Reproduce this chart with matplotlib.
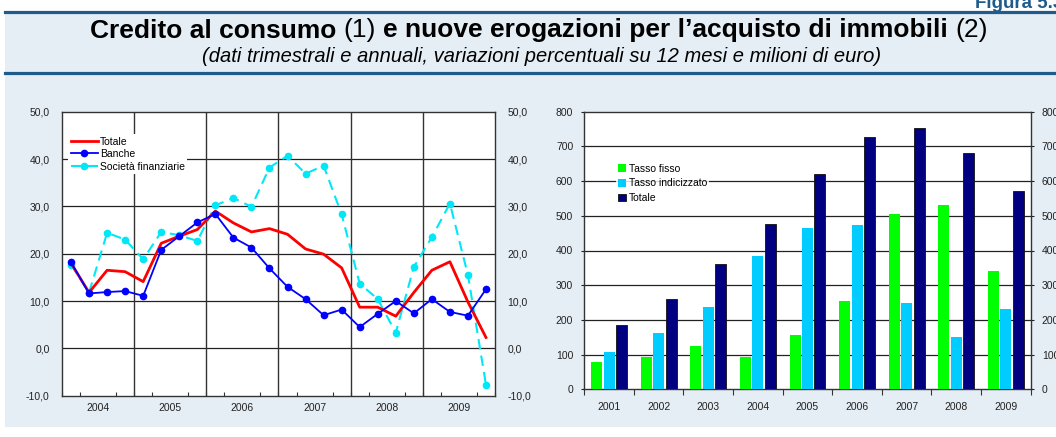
import matplotlib
matplotlib.use("Agg")
import matplotlib.pyplot as plt
from matplotlib.lines import Line2D
from matplotlib.patches import Rectangle
import numpy as np

plt.rcParams['font.family'] = ['Liberation Sans', 'DejaVu Sans']

# ---------------- data ----------------
years_q = ["2004", "2005", "2006", "2007", "2008", "2009"]
totale = [18.0, 11.8, 16.5, 16.2, 14.1, 22.2, 23.7, 25.1, 29.0, 26.5, 24.6, 25.3,
          24.1, 21.0, 19.9, 17.0, 8.7, 8.7, 6.8, 11.8, 16.5, 18.3, 9.8, 2.3]
banche = [18.2, 11.6, 11.9, 12.1, 11.1, 20.8, 23.7, 26.6, 28.4, 23.4, 21.3, 16.9,
          13.0, 10.4, 7.0, 8.2, 4.5, 7.3, 10.0, 7.4, 10.4, 7.7, 6.9, 12.5]
societa = [17.7, 11.8, 24.4, 23.0, 18.8, 24.6, 23.9, 22.7, 30.2, 31.8, 29.9, 38.2,
           40.7, 36.9, 38.6, 28.3, 13.7, 10.4, 3.3, 17.2, 23.5, 30.6, 15.5, -7.7]

years_a = ["2001", "2002", "2003", "2004", "2005", "2006", "2007", "2008", "2009"]
tasso_fisso = [79, 93, 125, 93, 157, 255, 505, 531, 341]
tasso_indic = [108, 162, 237, 384, 465, 474, 249, 151, 232]
totale_imm = [186, 260, 362, 477, 621, 728, 754, 682, 572]

left_yticks = [-10, 0, 10, 20, 30, 40, 50]
right_yticks = [0, 100, 200, 300, 400, 500, 600, 700, 800]

# ---------------- figure ----------------
W, H = 1056, 437
fig = plt.figure(figsize=(W / 100, H / 100), dpi=100)
fig.patch.set_facecolor('white')

def fx(px):
    return px / W

def fy(py):
    return 1 - py / H

bg = '#E6EEF5'
dark = '#1F5C8B'
fig.add_artist(Rectangle((fx(5), fy(427)), 1 - fx(5), fy(12) - fy(427),
                         transform=fig.transFigure, facecolor=bg, edgecolor='none', zorder=-10))
fig.add_artist(Line2D([fx(5), 1], [fy(11.5), fy(11.5)], transform=fig.transFigure,
                      color=dark, lw=2.3))
fig.add_artist(Line2D([fx(5), 1], [fy(73), fy(73)], transform=fig.transFigure,
                      color=dark, lw=2.3))

fig.text(fx(975), fy(8.5), "Figura 5.3", fontsize=13.5, fontweight='bold', color=dark,
         ha='left', va='baseline')

# title with mixed weights
pieces = [("Credito al consumo", 'bold'), ("(1)", 'normal'),
          ("e nuove erogazioni per l\u2019acquisto di immobili", 'bold'), ("(2)", 'normal')]
tsize = 19
renderer = fig.canvas.get_renderer()
objs = []
for s, w in pieces:
    t = fig.text(0, fy(37.5), s, fontsize=tsize, fontweight=w, ha='left', va='baseline', color='black')
    objs.append(t)
widths = [o.get_window_extent(renderer).width for o in objs]
gap = 0.278 * tsize * 100 / 72
total = sum(widths) + gap * (len(widths) - 1)
x = 539 - total / 2
for o, w in zip(objs, widths):
    o.set_x(fx(x))
    x += w + gap

fig.text(fx(542), fy(56), "(dati trimestrali e annuali, variazioni percentuali su 12 mesi e milioni di euro)",
         fontsize=14.5, style='italic', ha='center', va='center', color='black')

# ---------------- left chart ----------------
ax1 = fig.add_axes([fx(62), fy(395.7), fx(433), (395.7 - 111.7) / H])
ax1.set_facecolor('white')
xq = np.arange(len(totale))
ax1.set_xlim(-0.5, len(totale) - 0.5)
ax1.set_ylim(-10, 50)
for yv in [0, 10, 20, 30, 40]:
    ax1.axhline(yv, color='#222222', lw=0.9, zorder=1)
for k in range(1, len(years_q)):
    ax1.axvline(4 * k - 0.5, color='#333333', lw=1.0, zorder=1)

l_tot, = ax1.plot(xq, totale, color='#FF0000', lw=2.0, zorder=4, label='Totale')
l_ban, = ax1.plot(xq, banche, color='#0000FF', lw=1.3, marker='o', ms=4.5, zorder=5, label='Banche')
l_soc, = ax1.plot(xq, societa, color='#00E8F8', lw=1.5, ls=(0, (5, 3)), marker='o', ms=4.5,
                  zorder=3, label='Societ\u00e0 finanziarie')

ax1.set_yticks(left_yticks)
ax1.set_yticklabels([f"{v:.1f}".replace('.', ',') for v in left_yticks])
ax1.tick_params(axis='y', which='both', length=0, labelsize=7.5, labelleft=True,
                labelright=True, pad=9, colors='#222222')
ax1.set_xticks(np.arange(-0.5, len(totale), 1), minor=True)
ax1.set_xticks([4 * i + 1.5 for i in range(len(years_q))])
ax1.set_xticklabels(years_q)
ax1.tick_params(axis='x', which='major', length=0, labelsize=7.5, pad=5, colors='#222222')
ax1.tick_params(axis='x', which='minor', direction='in', length=3, width=0.8, color='#333333')
for sp in ax1.spines.values():
    sp.set_color('#333333')
    sp.set_linewidth(1.0)

leg1 = ax1.legend(handles=[l_tot, l_ban, l_soc], loc='upper left', bbox_to_anchor=(0.015, 0.92),
                  frameon=True, fontsize=7.5, handlelength=2.6, handletextpad=0.2,
                  labelspacing=0.25, borderpad=0.2, borderaxespad=0)
leg1.get_frame().set_facecolor('white')
leg1.get_frame().set_edgecolor('none')
leg1.get_frame().set_alpha(1)

# ---------------- right chart ----------------
ax2 = fig.add_axes([fx(584.3), fy(389.3), fx(446.4), (389.3 - 111.7) / H])
ax2.set_facecolor('white')
xa = np.arange(len(years_a))
ax2.set_xlim(-0.5, len(years_a) - 0.5)
ax2.set_ylim(0, 800)
for yv in right_yticks[1:-1]:
    ax2.axhline(yv, color='#222222', lw=0.9, zorder=1)
bw = 0.22
b1 = ax2.bar(xa - 0.25, tasso_fisso, bw, color='#00FF00', zorder=3, label='Tasso fisso')
b2 = ax2.bar(xa, tasso_indic, bw, color='#00CCFF', zorder=3, label='Tasso indicizzato')
b3 = ax2.bar(xa + 0.25, totale_imm, bw, color='#000080', edgecolor='#111111', lw=0.6,
             zorder=3, label='Totale')
ax2.set_yticks(right_yticks)
ax2.set_yticklabels([str(v) for v in right_yticks])
ax2.tick_params(axis='y', length=2, labelsize=7.5, labelleft=True, labelright=True,
                right=True, pad=6, colors='#222222')
ax2.set_xticks(xa)
ax2.set_xticklabels(years_a)
ax2.set_xticks(np.arange(-0.5, len(years_a), 1), minor=True)
ax2.tick_params(axis='x', which='major', length=0, labelsize=7.5, pad=9, colors='#222222')
ax2.tick_params(axis='x', which='minor', direction='out', length=4, width=0.8, color='#333333')
for sp in ax2.spines.values():
    sp.set_color('#333333')
    sp.set_linewidth(1.0)

leg2 = ax2.legend(handles=[b1, b2, b3], loc='upper left', bbox_to_anchor=(0.07, 0.82),
                  frameon=True, fontsize=7.5, handlelength=0.8, handleheight=0.8,
                  handletextpad=0.25, labelspacing=0.45, borderpad=0.2, borderaxespad=0)
leg2.get_frame().set_facecolor('white')
leg2.get_frame().set_edgecolor('none')

fig.savefig("out.png", dpi=100, facecolor=fig.get_facecolor())
